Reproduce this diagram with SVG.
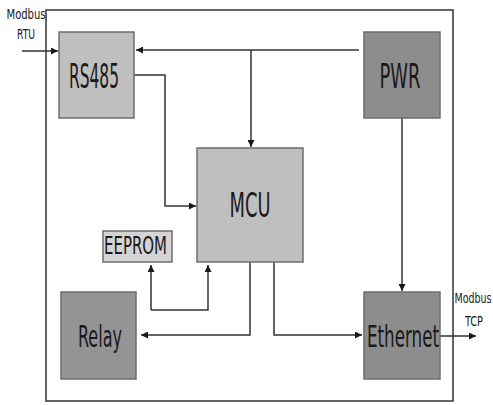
<svg xmlns="http://www.w3.org/2000/svg" width="493" height="405" viewBox="0 0 493 405">
<defs>
<marker id="ah" viewBox="0 0 10 10" refX="10" refY="5" markerWidth="7" markerHeight="7" markerUnits="userSpaceOnUse" orient="auto">
<path d="M0,0 L10,5 L0,10 z" fill="#1a1a1a"/>
</marker>
<style>
.box{stroke:#6e6e6e;stroke-width:1.5}
.lt{fill:#bfbfbf}
.dk{fill:#8d8d8d}
.lbl{font-family:"Liberation Sans Narrow","DejaVu Sans Condensed","Noto Sans",sans-serif;fill:#1a1a1a;text-anchor:middle}
.big{font-size:33px}
.sm{font-size:14px}
.ln{fill:none;stroke:#333;stroke-width:1.5}
</style>
</defs>
<rect width="493" height="405" fill="#fff"/>
<rect id="frame" x="46" y="10" width="407" height="391" fill="none" stroke="#333" stroke-width="1.5"/>

<g id="connectors">
<path class="ln" d="M22,51 H58" marker-end="url(#ah)"/>
<path class="ln" d="M359,50 H136" marker-end="url(#ah)"/>
<path class="ln" d="M251,50 V147" marker-end="url(#ah)"/>
<path class="ln" d="M134,75 H165 V206 H196" marker-end="url(#ah)"/>
<path class="ln" d="M151,310 V265" marker-end="url(#ah)"/>
<path class="ln" d="M151,310 H208 V265" marker-end="url(#ah)"/>
<path class="ln" d="M250,262 V335 H141" marker-end="url(#ah)"/>
<path class="ln" d="M274,262 V335 H362" marker-end="url(#ah)"/>
<path class="ln" d="M402,118 V291" marker-end="url(#ah)"/>
<path class="ln" d="M440,336 H476" marker-end="url(#ah)"/>
</g>

<g id="rs485">
<rect class="box lt" x="59" y="32" width="75" height="86"/>
<text class="lbl big" x="94" y="88" textLength="50" lengthAdjust="spacingAndGlyphs">RS485</text>
</g>
<g id="pwr">
<rect class="box dk" x="364" y="32" width="76" height="86"/>
<text class="lbl big" x="400" y="88" textLength="41" lengthAdjust="spacingAndGlyphs">PWR</text>
</g>
<g id="mcu">
<rect class="box lt" x="197" y="148" width="106" height="114"/>
<text class="lbl big" x="250" y="217" textLength="41" lengthAdjust="spacingAndGlyphs">MCU</text>
</g>
<g id="eeprom">
<rect class="box" fill="#d4d4d4" x="103" y="231" width="69" height="31"/>
<text class="lbl" font-size="25" x="135.5" y="254" textLength="63" lengthAdjust="spacingAndGlyphs">EEPROM</text>
</g>
<g id="relay">
<rect class="box" fill="#949494" x="61" y="292" width="75" height="87"/>
<text class="lbl" font-size="31" x="100" y="347" textLength="44" lengthAdjust="spacingAndGlyphs">Relay</text>
</g>
<g id="ethernet">
<rect class="box dk" x="364" y="292" width="76" height="87"/>
<text class="lbl" font-size="31" x="403" y="347" textLength="72" lengthAdjust="spacingAndGlyphs">Ethernet</text>
</g>
<g id="modbus-rtu">
<text class="lbl sm" x="26" y="19" textLength="39" lengthAdjust="spacingAndGlyphs">Modbus</text>
<text class="lbl sm" x="26" y="39" textLength="18" lengthAdjust="spacingAndGlyphs">RTU</text>
</g>
<g id="modbus-tcp">
<text class="lbl sm" x="473" y="303" textLength="37" lengthAdjust="spacingAndGlyphs">Modbus</text>
<text class="lbl sm" x="474" y="326" textLength="18" lengthAdjust="spacingAndGlyphs">TCP</text>
</g>
</svg>
